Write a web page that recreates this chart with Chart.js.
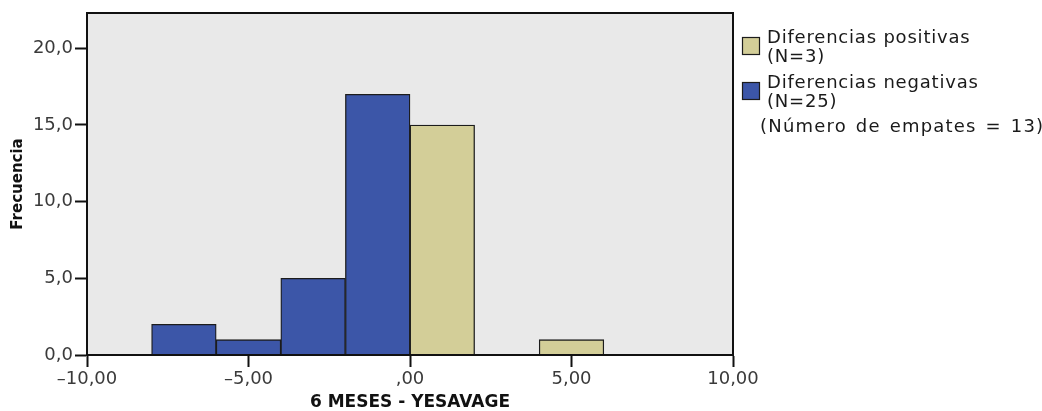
<!DOCTYPE html>
<html>
<head>
<meta charset="utf-8">
<script src="https://cdn.jsdelivr.net/npm/chart.js@4/dist/chart.umd.min.js"></script>
<style>
  html, body { margin: 0; padding: 0; background: #ffffff; }
  #wrap { width: 1042px; height: 411px; position: relative; }
</style>
</head>
<body>
<div id="wrap"><canvas id="c" width="1042" height="411"></canvas></div>
<script>
// Histogram bins are 2 units wide; values are bin centres and counts.
const negativeCenters = [-7, -5, -3, -1];
const negativeCounts  = [2, 1, 5, 17];
const positiveCenters = [1, 5];
const positiveCounts  = [15, 1];

const xTicks = [-10, -5, 0, 5, 10];
const yTicks = [0, 5, 10, 15, 20];

const seriesNames = ['Diferencias positivas', 'Diferencias negativas'];
const seriesN     = ['(N=3)', '(N=25)'];
const tiesNote    = '(Número de empates = 13)';
const xTitle = '6 MESES - YESAVAGE';
const yTitle = 'Frecuencia';

const BLUE = '#3c56a8';
const TAN  = '#d3ce98';
const EDGE = '#1c1c1c';
const FONT = "'DejaVu Sans', sans-serif";

const toPoints = (xs, ys) => xs.map((x, i) => ({ x: x, y: ys[i] }));

// Grey plotting area with a closed black frame
const framePlugin = {
  id: 'frame',
  beforeDraw(chart) {
    const { ctx, chartArea: a } = chart;
    ctx.save();
    ctx.fillStyle = '#e9e9e9';
    ctx.fillRect(a.left, a.top, a.right - a.left, a.bottom - a.top);
    ctx.restore();
  },
  afterDatasetsDraw(chart) {
    const { ctx, chartArea: a } = chart;
    ctx.save();
    ctx.strokeStyle = '#111';
    ctx.lineWidth = 2;
    ctx.strokeRect(a.left, a.top, a.right - a.left, a.bottom - a.top);
    ctx.restore();
  }
};

// Legend to the right of the plot: swatch, name and count, plus the ties note
const legendPlugin = {
  id: 'sideLegend',
  afterDraw(chart) {
    const { ctx } = chart;
    const order = [1, 0]; // positive series first
    ctx.save();
    ctx.font = '18px ' + FONT;
    ctx.letterSpacing = '0.8px';
    ctx.textBaseline = 'middle';
    const x0 = chart.chartArea.right + 9;
    let y = 38;
    order.forEach((di, k) => {
      const ds = chart.data.datasets[di];
      ctx.fillStyle = ds.backgroundColor;
      ctx.fillRect(x0, y - 1, 18, 18);
      ctx.strokeStyle = EDGE;
      ctx.lineWidth = 1.2;
      ctx.strokeRect(x0 + 0.5, y - 0.5, 17, 17);
      ctx.fillStyle = '#1a1a1a';
      ctx.fillText(seriesNames[k], x0 + 25, y);
      ctx.fillText(seriesN[k], x0 + 25, y + 19);
      y += 45;
    });
    ctx.letterSpacing = '1.2px';
    ctx.wordSpacing = '2px';
    ctx.fillText(tiesNote, x0 + 18, y - 1);
    ctx.restore();
  }
};

const fmtX = v => v === 0 ? ',00' : v.toFixed(2).replace('.', ',').replace('-', '–');
const fmtY = v => v.toFixed(1).replace('.', ',');

new Chart(document.getElementById('c'), {
  type: 'bar',
  data: {
    datasets: [
      {
        label: seriesNames[1],
        data: toPoints(negativeCenters, negativeCounts),
        backgroundColor: BLUE,
        borderColor: EDGE,
        borderWidth: 1.3,
        borderSkipped: 'start'
      },
      {
        label: seriesNames[0],
        data: toPoints(positiveCenters, positiveCounts),
        backgroundColor: TAN,
        borderColor: EDGE,
        borderWidth: 1.3,
        borderSkipped: 'start'
      }
    ]
  },
  options: {
    responsive: false,
    animation: false,
    events: [],
    grouped: false,
    barPercentage: 1,
    categoryPercentage: 1,
    layout: { padding: { top: 13, right: 309, bottom: 0, left: 0 } },
    plugins: { legend: { display: false }, tooltip: { enabled: false } },
    scales: {
      x: {
        type: 'linear',
        min: -10,
        max: 10,
        offset: false,
        afterFit: s => { s.height = 56; },
        afterBuildTicks: s => { s.ticks = xTicks.map(v => ({ value: v })); },
        grid: {
          offset: false,
          drawOnChartArea: false,
          drawTicks: true,
          tickLength: 12,
          tickColor: '#111',
          tickWidth: 2
        },
        border: { display: true, color: '#111', width: 2 },
        ticks: {
          font: { family: FONT, size: 18 },
          color: '#3a3a3a',
          padding: 2,
          maxRotation: 0,
          callback: v => fmtX(v)
        },
        title: {
          display: true,
          text: xTitle,
          color: '#111',
          font: { family: FONT, size: 17, weight: 'bold', lineHeight: 1 },
          padding: { top: 0, bottom: 0 }
        }
      },
      y: {
        min: 0,
        max: 22.3,
        afterFit: s => { s.width = 87; },
        afterBuildTicks: s => { s.ticks = yTicks.map(v => ({ value: v })); },
        grid: {
          drawOnChartArea: false,
          drawTicks: true,
          tickLength: 12,
          tickColor: '#111',
          tickWidth: 2
        },
        border: { display: true, color: '#111', width: 2 },
        ticks: {
          font: { family: FONT, size: 18 },
          color: '#3a3a3a',
          padding: 2,
          callback: v => fmtY(v)
        },
        title: {
          display: true,
          text: yTitle,
          color: '#111',
          font: { family: FONT, size: 15, weight: 'bold', lineHeight: 1.2 },
          padding: { top: 9, bottom: 0 }
        }
      }
    }
  },
  plugins: [framePlugin, legendPlugin]
});
</script>
</body>
</html>
